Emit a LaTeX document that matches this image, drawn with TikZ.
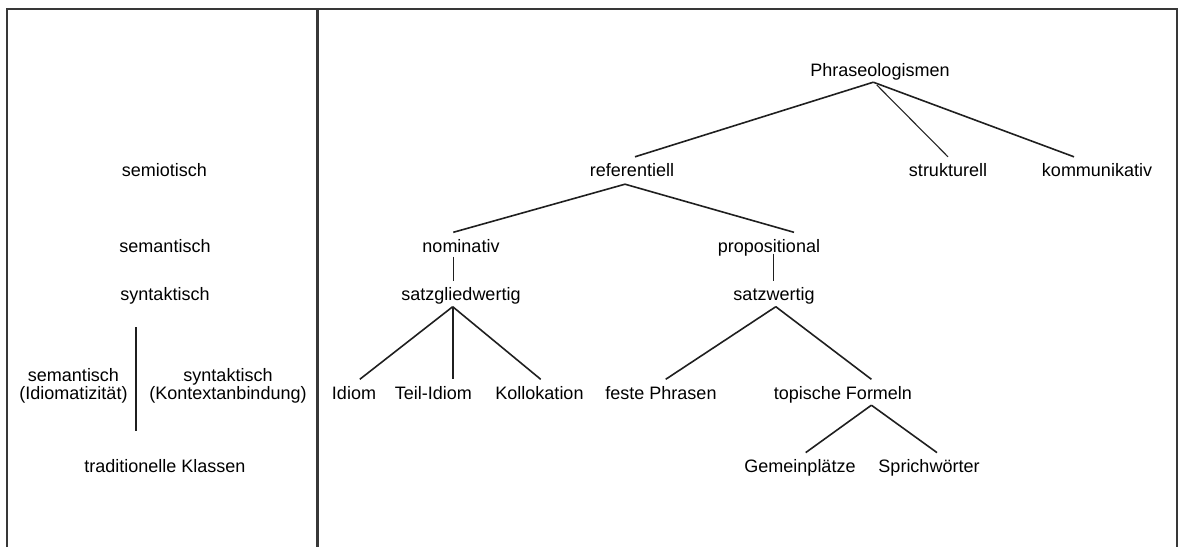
\documentclass[tikz,border=0pt]{standalone}
\usepackage{fontspec}
\setmainfont{Liberation Sans}
\begin{document}
\begin{tikzpicture}[x=1pt,y=-1pt,
  lbl/.style={font=\fontsize{18}{20}\selectfont, inner xsep=0pt, inner ysep=6pt,
              text height=13.5pt, text depth=0pt, anchor=base},
  edge/.style={draw=black!88, line width=1.6pt},
  thinedge/.style={draw=black!85, line width=1.1pt},
  frame/.style={draw=black!78, line width=2.4pt}]
\useasboundingbox (0,0) rectangle (1179,547);

% outer frame (open at the bottom) and column divider
\draw[frame] (7,547) -- (7,8.7) -- (1176.8,8.7) -- (1176.8,547);
\draw[frame] (317.5,8.7) -- (317.5,547);

% criteria column
\node[lbl] (crSemio)  at (164.5,176.5) {semiotisch};
\node[lbl] (crSeman)  at (165,252)     {semantisch};
\node[lbl] (crSynt)   at (165,300.5)   {syntaktisch};
\node[lbl] (crSemA)   at (73.5,381.5)  {semantisch};
\node[lbl] (crSemB)   at (73.5,399)    {(Idiomatizität)};
\node[lbl] (crSynA)   at (228,381.5)   {syntaktisch};
\node[lbl] (crSynB)   at (228,399)     {(Kontextanbindung)};
\node[lbl] (crTrad)   at (165,472.3)   {traditionelle Klassen};
\coordinate (sepTop) at (136,327);
\coordinate (sepBot) at (136,431);
\draw[edge] (sepTop) -- (sepBot);

% classification tree
\node[lbl] (phr)  at (880,76)      {Phraseologismen};
\node[lbl] (ref)  at (632,176.5)   {referentiell};
\node[lbl] (str)  at (948,176.5)   {strukturell};
\node[lbl] (kom)  at (1097,176.5)  {kommunikativ};
\node[lbl] (nom)  at (461,252)     {nominativ};
\node[lbl] (prop) at (769,252)     {propositional};
\node[lbl] (sgw)  at (461,300.5)   {satzgliedwertig};
\node[lbl] (sw)   at (774,300.5)   {satzwertig};
\node[lbl] (idi)  at (354,399)     {Idiom};
\node[lbl] (teil) at (433.4,399)   {Teil-Idiom};
\node[lbl] (kol)  at (539.5,399)   {Kollokation};
\node[lbl] (fest) at (661,399)     {feste Phrasen};
\node[lbl] (top)  at (843,399)     {topische Formeln};
\node[lbl] (gem)  at (800,472.3)   {Gemeinplätze};
\node[lbl] (spr)  at (929,472.3)   {Sprichwörter};

\draw[edge] ([xshift=-6.7pt]phr.south) -- ([xshift=3pt]ref.north);
\draw[thinedge] ([xshift=-3.3pt,yshift=-2.7pt]phr.south) -- (str.north);
\draw[edge] ([xshift=-6.7pt]phr.south) -- ([xshift=-23pt]kom.north);

\draw[edge] ([xshift=-7pt,yshift=-1.5pt]ref.south) -- ([xshift=-7.7pt]nom.north);
\draw[edge] ([xshift=-7pt,yshift=-1.5pt]ref.south) -- ([xshift=25pt]prop.north);

\draw[edge] ([xshift=-7.7pt,yshift=1.3pt]nom.south) -- ([xshift=-7.7pt]sgw.north);
\draw[edge] ([xshift=4.3pt,yshift=4.7pt]prop.south) -- ([xshift=-0.7pt]sw.north);

\draw[edge] ([xshift=-8.3pt]sgw.south) -- ([xshift=5.8pt]idi.north);
\draw[edge] ([xshift=-8.3pt]sgw.south) -- ([xshift=19.3pt]teil.north);
\draw[edge] ([xshift=-8.3pt]sgw.south) -- ([xshift=1.2pt]kol.north);

\draw[edge] ([xshift=1.8pt]sw.south) -- ([xshift=4.7pt]fest.north);
\draw[edge] ([xshift=1.8pt]sw.south) -- ([xshift=28.4pt]top.north);

\draw[edge] ([xshift=28.4pt]top.south) -- ([xshift=5.7pt]gem.north);
\draw[edge] ([xshift=28.4pt]top.south) -- ([xshift=8pt]spr.north);
\end{tikzpicture}
\end{document}
